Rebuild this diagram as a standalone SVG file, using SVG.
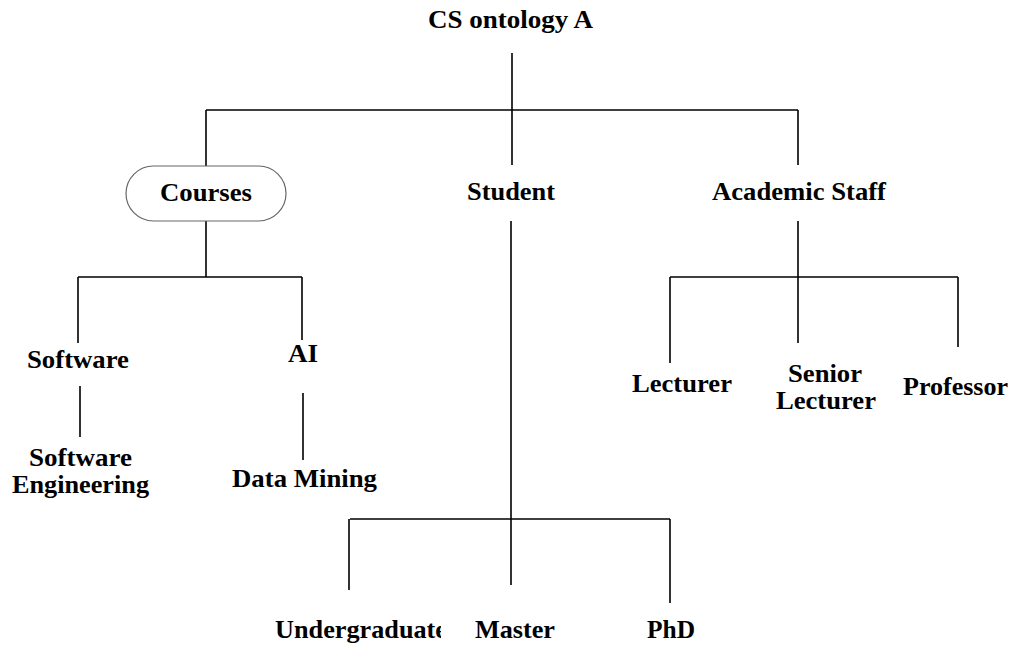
<svg xmlns="http://www.w3.org/2000/svg" width="1014" height="646" viewBox="0 0 1014 646">
<style>
text{font-family:"Liberation Serif","Times New Roman",serif;font-weight:bold;font-size:26px;fill:#000}
.c{stroke:#000;stroke-width:1.6;fill:none}
.pill{fill:#fff;stroke:#666;stroke-width:1.2}
</style>
<defs><clipPath id="cu"><rect x="260" y="600" width="181" height="46"/></clipPath></defs>
<rect width="1014" height="646" fill="#fff"/>
<g id="connectors" class="c">
<path d="M512 53V165M206 110H798M206 110V166M798 110V165"/>
<path d="M206 221V277M78 277H302M78 277V343M302 277V340"/>
<path d="M80 386V437M303 393V460"/>
<path d="M511 221V585M350 519H670M349 519V590M670 519V603"/>
<path d="M798 221V343M670 277H958M670 277V363M958 277V347"/>
</g>
<g id="root"><text x="428" y="28" textLength="165" lengthAdjust="spacingAndGlyphs">CS ontology A</text></g>
<g id="courses"><rect class="pill" x="126" y="166" width="160" height="55" rx="27.5"/><text x="160" y="201" textLength="92" lengthAdjust="spacingAndGlyphs">Courses</text></g>
<g id="student"><text x="467" y="200" textLength="88" lengthAdjust="spacingAndGlyphs">Student</text></g>
<g id="staff"><text x="712" y="200" textLength="174" lengthAdjust="spacingAndGlyphs">Academic Staff</text></g>
<g id="software"><text x="27" y="368" textLength="102" lengthAdjust="spacingAndGlyphs">Software</text></g>
<g id="ai"><text x="288" y="362" textLength="30" lengthAdjust="spacingAndGlyphs">AI</text></g>
<g id="se"><text x="29" y="466" textLength="103" lengthAdjust="spacingAndGlyphs">Software</text><text x="12" y="493" textLength="137" lengthAdjust="spacingAndGlyphs">Engineering</text></g>
<g id="dm"><text x="232" y="487" textLength="145" lengthAdjust="spacingAndGlyphs">Data Mining</text></g>
<g id="lecturer"><text x="632" y="392" textLength="100" lengthAdjust="spacingAndGlyphs">Lecturer</text></g>
<g id="senior"><text x="788" y="382" textLength="74" lengthAdjust="spacingAndGlyphs">Senior</text><text x="776" y="409" textLength="100" lengthAdjust="spacingAndGlyphs">Lecturer</text></g>
<g id="professor"><text x="903" y="395" textLength="105" lengthAdjust="spacingAndGlyphs">Professor</text></g>
<g id="undergrad"><text x="275" y="638" textLength="172" lengthAdjust="spacingAndGlyphs" clip-path="url(#cu)">Undergraduate</text></g>
<g id="master"><text x="475" y="638" textLength="80" lengthAdjust="spacingAndGlyphs">Master</text></g>
<g id="phd"><text x="647" y="638" textLength="48" lengthAdjust="spacingAndGlyphs">PhD</text></g>
</svg>
